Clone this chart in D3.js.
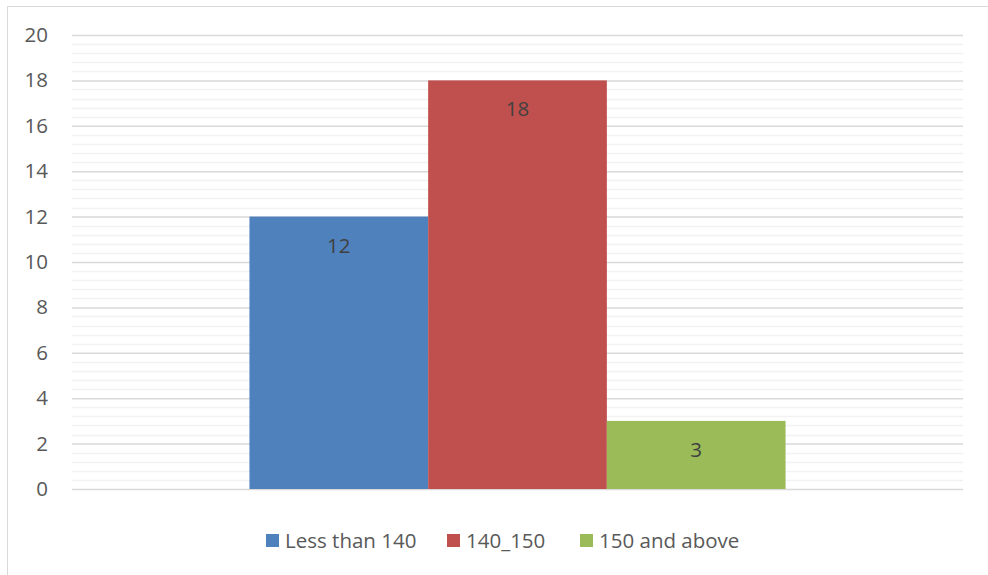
<!DOCTYPE html>
<html><head><meta charset="utf-8">
<script src="https://cdn.jsdelivr.net/npm/d3@7"></script>
<style>body{margin:0;background:#fff}svg{display:block}text{font-family:"Open Sans","Noto Sans",sans-serif}</style>
</head><body>
<script>
const categories = [""];
const seriesNames = ["Less than 140", "140_150", "150 and above"];
const seriesValues = [12, 18, 3];
const seriesColors = ["#4F81BD", "#C0504D", "#9BBB59"];
const yTicks = [0, 2, 4, 6, 8, 10, 12, 14, 16, 18, 20];

const W = 988, H = 575;
const m = {left: 72, right: 25, top: 35, bottom: 86};
const svg = d3.select("body").append("svg").attr("width", W).attr("height", H);

svg.append("rect").attr("x", 7.5).attr("y", 6.5).attr("width", W).attr("height", H)
  .attr("fill", "none").attr("stroke", "#d9d9d9").attr("stroke-width", 1);

const y = d3.scaleLinear().domain([0, 20]).range([H - m.bottom, m.top]);
const x0 = d3.scaleBand().domain(categories).range([m.left, W - m.right]).paddingInner(0).paddingOuter(0.331);
const x1 = d3.scaleBand().domain(seriesNames).range([x0(""), x0("") + x0.bandwidth()]);

// minor gridlines
const minor = d3.range(0, 20.001, 0.4).filter(v => Math.abs(v / 2 - Math.round(v / 2)) > 1e-6);
svg.append("g").selectAll("line").data(minor).join("line")
  .attr("x1", m.left).attr("x2", W - m.right)
  .attr("y1", d => Math.round(y(d)) + 0.5).attr("y2", d => Math.round(y(d)) + 0.5)
  .attr("stroke", "#f2f2f2").attr("stroke-width", 1.5);

const yAxis = d3.axisLeft(y).tickValues(yTicks).tickSize(-(W - m.right - m.left)).tickPadding(24);
const ga = svg.append("g").attr("transform", `translate(${m.left},0)`).call(yAxis);
ga.select(".domain").remove();
ga.selectAll(".tick line").attr("stroke", "#d9d9d9").attr("stroke-width", 1.5);
ga.selectAll(".tick text").attr("fill", "#595959").attr("font-size", 20.5);

const bars = svg.append("g");
seriesNames.forEach((s, i) => {
  const bx = x1(s), bw = x1.bandwidth();
  bars.append("rect").attr("x", bx).attr("width", bw)
    .attr("y", y(seriesValues[i])).attr("height", y(0) - y(seriesValues[i]))
    .attr("fill", seriesColors[i]);
  bars.append("text").attr("x", bx + bw / 2).attr("y", y(seriesValues[i]) + 36)
    .attr("text-anchor", "middle").attr("fill", "#404040").attr("font-size", 20.5)
    .text(seriesValues[i]);
});

// legend
const legendX = [266, 447, 580];
const lg = svg.append("g");
seriesNames.forEach((s, i) => {
  lg.append("rect").attr("x", legendX[i]).attr("y", 534).attr("width", 13).attr("height", 13).attr("fill", seriesColors[i]);
  lg.append("text").attr("x", legendX[i] + 19).attr("y", 548).attr("fill", "#595959").attr("font-size", 20.5).text(s);
});
</script>
</body></html>
